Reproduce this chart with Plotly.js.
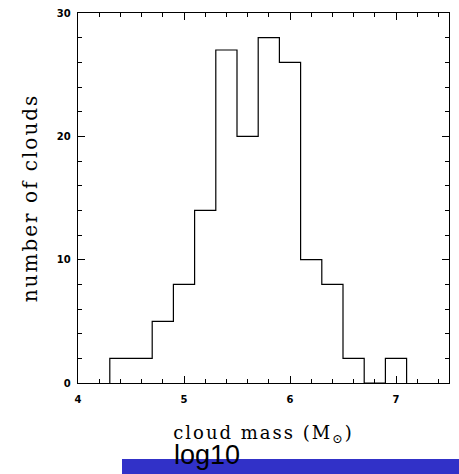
<!DOCTYPE html>
<html><head><meta charset="utf-8">
<script src="https://cdn.plot.ly/plotly-3.0.1.min.js"></script>
<style>
html,body{margin:0;padding:0;background:#fff;}
.xtitle{letter-spacing:2px;}
.ytitle{letter-spacing:2px;}
</style>
</head><body>
<div id="chart" style="width:459px;height:474px;"></div>
<script>
// bin edges (log10 cloud mass) and counts per bin
var binEdges = [4.3, 4.5, 4.7, 4.9, 5.1, 5.3, 5.5, 5.7, 5.9, 6.1, 6.3, 6.5, 6.7, 6.9, 7.1];
var counts   = [2, 2, 5, 8, 14, 27, 20, 28, 26, 10, 8, 2, 0, 2];
var xTickVals = [4, 5, 6, 7];
var yTickVals = [0, 10, 20, 30];

// build step outline from the histogram data
var sx = [binEdges[0]], sy = [0];
for (var i = 0; i < counts.length; i++) {
  sx.push(binEdges[i], binEdges[i + 1]);
  sy.push(counts[i], counts[i]);
}
sx.push(binEdges[binEdges.length - 1]); sy.push(0);

var trace = {
  x: sx, y: sy, type: 'scatter', mode: 'lines',
  line: {color: '#000', width: 1.2}, hoverinfo: 'skip'
};

var tickFont = {family: 'DejaVu Sans', weight: 'bold', size: 10, color: '#000'};
var layout = {
  width: 459, height: 474,
  margin: {l: 78, r: 10, t: 13, b: 91},
  paper_bgcolor: '#fff', plot_bgcolor: '#fff',
  showlegend: false,
  xaxis: {
    range: [4, 7.5], tickvals: xTickVals, ticktext: xTickVals.map(String),
    ticks: 'inside', ticklen: 7, tickwidth: 1, tickcolor: '#000',
    minor: {dtick: 0.2, tick0: 4, ticks: 'inside', ticklen: 4, tickcolor: '#000', tickwidth: 1},
    showline: true, linecolor: '#000', linewidth: 1.3, mirror: 'ticks',
    showgrid: false, zeroline: false, tickfont: tickFont, ticklabelstandoff: 7,
    title: {text: 'cloud mass (M<sub>⊙</sub>)', font: {family: 'DejaVu Serif', size: 18, color: '#000'}, standoff: 22}
  },
  yaxis: {
    range: [0, 30], tickvals: yTickVals, ticktext: yTickVals.map(String),
    ticks: 'inside', ticklen: 7, tickwidth: 1, tickcolor: '#000',
    minor: {dtick: 2, tick0: 0, ticks: 'inside', ticklen: 4, tickcolor: '#000', tickwidth: 1},
    showline: true, linecolor: '#000', linewidth: 1.3, mirror: 'ticks',
    showgrid: false, zeroline: false, tickfont: tickFont, ticklabelstandoff: 4,
    title: {text: 'number of clouds', font: {family: 'DejaVu Serif', size: 20, color: '#000'}, standoff: 13}
  },
  shapes: [{
    type: 'rect', xref: 'paper', yref: 'paper',
    x0: 0.1186, x1: 1.03, y0: -0.2459, y1: -0.2054,
    fillcolor: '#3131c8', line: {width: 0}, layer: 'below'
  }],
  annotations: [{
    xref: 'paper', yref: 'paper', x: 0.3477, y: -0.194,
    xanchor: 'center', yanchor: 'middle',
    text: 'log10', showarrow: false,
    font: {family: 'Liberation Sans', size: 27, color: '#000'}
  }]
};

Plotly.newPlot('chart', [trace], layout, {displayModeBar: false, staticPlot: true});
</script>
</body></html>
